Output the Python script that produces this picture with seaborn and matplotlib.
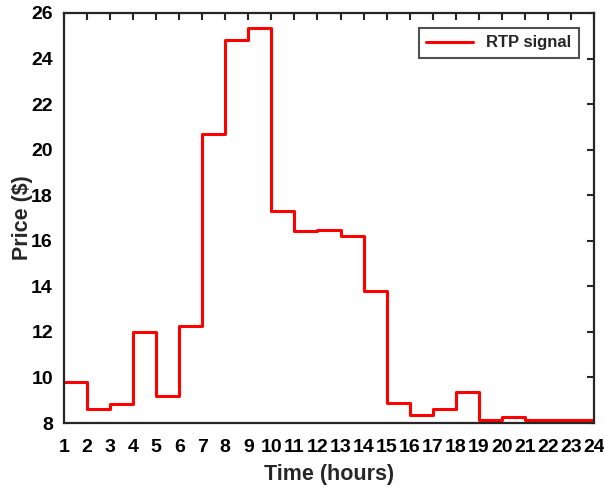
"""RTP price signal over a day, drawn as a step plot"""

import matplotlib
matplotlib.use("Agg")
import matplotlib.pyplot as plt
import seaborn as sns
import numpy as np
import pandas as pd

hours = list(range(1, 25))
price = [9.81, 8.61, 8.85, 12.00, 9.17, 12.26, 20.70, 24.83, 25.35, 17.31,
         16.44, 16.47, 16.19, 13.81, 8.86, 8.34, 8.63, 9.36, 8.13, 8.25,
         8.12, 8.14, 8.14, 8.25]
series_label = "RTP signal"
y_ticks = list(range(8, 27, 2))

df = pd.DataFrame({"hour": hours, "price": price})

sns.set_style("white")
plt.rcParams['font.family'] = ['Liberation Sans', 'DejaVu Sans']
plt.rcParams['font.weight'] = 'bold'

fig = plt.figure(figsize=(6.04, 4.87), dpi=100)
ax = fig.add_axes([64 / 604, (487 - 423) / 487, 530 / 604, 410 / 487])

sns.lineplot(data=df, x="hour", y="price", ax=ax, color="#ff0000",
             linewidth=2.2, drawstyle="steps-post", label=series_label)

ax.set_xlim(1, 24)
ax.set_ylim(8, 26)
ax.set_xticks(hours)
ax.set_yticks(y_ticks)
ax.tick_params(direction="in", length=5, width=1.5, color="#262626",
               top=True, right=True, labelsize=14, labelcolor="#000000")
ax.tick_params(axis="x", pad=11.5)
ax.tick_params(axis="y", pad=8)
for lab in ax.get_xticklabels() + ax.get_yticklabels():
    lab.set_fontweight("bold")
for sp in ax.spines.values():
    sp.set_color("#262626")
    sp.set_linewidth(1.6)

ax.set_xlabel("Time (hours)", fontsize=15.5, fontweight="bold",
              color="#262626", labelpad=6)
ax.set_ylabel("Price ($)", fontsize=15.5, fontweight="bold",
              color="#262626", labelpad=-1)

leg = ax.legend(loc="upper right", fontsize=12, frameon=True, fancybox=False,
                handlelength=2.8, borderaxespad=0.9, borderpad=0.45)
leg.get_frame().set_edgecolor("#262626")
leg.get_frame().set_linewidth(1.5)
for t in leg.get_texts():
    t.set_fontweight("bold")

fig.savefig("out.png", dpi=100)
